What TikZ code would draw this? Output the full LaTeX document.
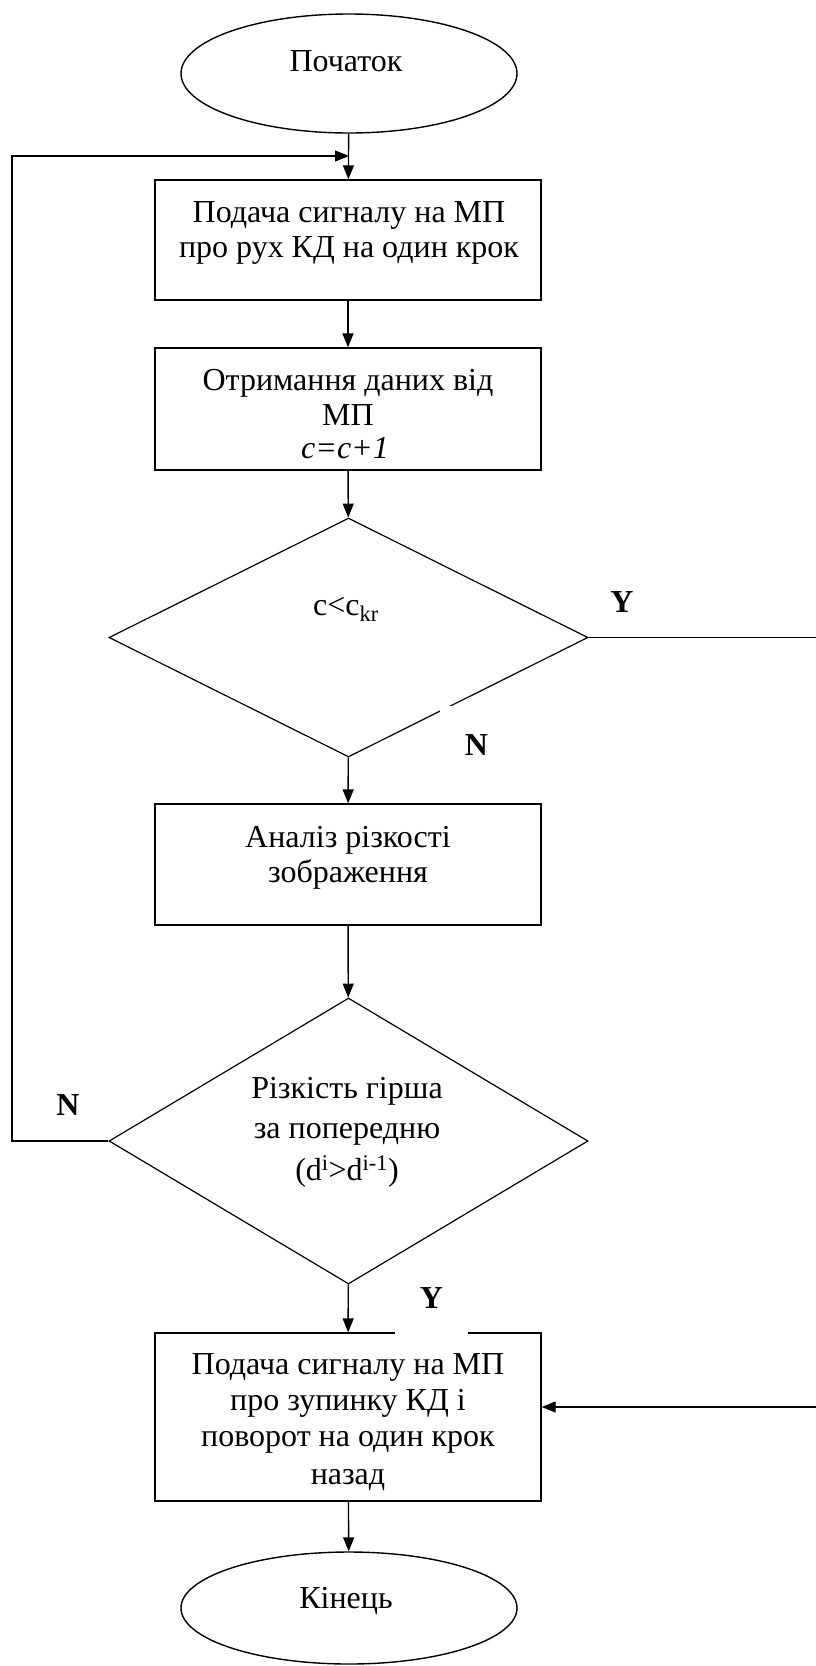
\documentclass[tikz,border=0pt]{standalone}
\usepackage{fontspec}
\setmainfont{Liberation Serif}
\usetikzlibrary{shapes.geometric,arrows.meta}
\begin{document}
\begin{tikzpicture}[x=1pt,y=-1pt,
  line width=1.4pt,
  arr/.style={-{Triangle[length=14pt,width=11pt]}},
  blk/.style={draw, rectangle, inner sep=0pt, minimum width=386pt},
  term/.style={draw, ellipse, inner sep=0pt, minimum width=336pt},
  dec/.style={draw, diamond, inner sep=0pt, line width=1.2pt, minimum width=479pt},
  txt/.style={anchor=base, inner sep=0pt, font=\fontsize{32}{35}\selectfont},
  yn/.style={anchor=base, inner sep=0pt, font=\fontsize{32}{35}\selectfont\bfseries},
  ynbox/.style={fill=white, inner sep=0pt, minimum width=73pt,
    font=\fontsize{32}{35}\selectfont\bfseries},
]
\useasboundingbox[fill=white] (0,0) rectangle (816,1666);

% blocks
\node[term, minimum height=119pt] (st) at (349,73.5) {};
\node[blk, minimum height=120pt] (b1) at (348,240) {};
\node[blk, minimum height=122pt] (b2) at (348,409) {};
\node[dec, minimum height=239pt] (d1) at (348.5,637.5) {};
\node[blk, minimum height=121pt] (b3) at (348,864.5) {};
\node[dec, minimum height=286pt] (d2) at (348.5,1141) {};
\node[blk, minimum height=168pt] (b4) at (348,1417) {};
\node[term, minimum height=112pt] (en) at (349,1608) {};

% texts
\node[txt] (tst) at (346,71) {Початок};
\node[txt] (t1a) at (349,222) {Подача сигналу на МП};
\node[txt] (t1b) at (349,257) {про рух КД на один крок};
\node[txt] (t2a) at (348,390) {Отримання даних від};
\node[txt] (t2b) at (348,425) {МП};
\node[txt] (t2c) at (345,458) {\itshape c=c+1};
\node[txt] (t3) at (346,615) {c<c\textsubscript{kr}};
\node[txt] (t4a) at (348,847) {Аналіз різкості};
\node[txt] (t4b) at (348,882) {зображення};
\node[txt] (t5a) at (347,1098) {Різкість гірша};
\node[txt] (t5b) at (347,1138) {за попередню};
\node[txt] (t5c) at (347,1180) {(d\textsuperscript{i}>d\textsuperscript{i-1})};
\node[txt] (t6a) at (348,1374) {Подача сигналу на МП};
\node[txt] (t6b) at (348,1410) {про зупинку КД і};
\node[txt] (t6c) at (348,1446) {поворот на один крок};
\node[txt] (t6d) at (348,1484) {назад};
\node[txt] (ten) at (346,1608) {Кінець};

% main flow
\draw[arr] (st) -- (b1);
\draw[arr] (b1) -- (b2);
\draw[arr] (b2) -- (d1);
\draw[arr] (d1) -- (b3);
\draw[arr] (b3) -- (d2);
\draw[arr] (d2) -- (b4);
\draw[arr] (b4) -- (en);

% loop back to the step command
\coordinate (la) at (12,1141);
\coordinate (lb) at (12,156);
\draw[arr] (d2.west) -- (la) -- (lb) -- (st.south |- lb);

% exit to the stop command
\coordinate (ra) at (822,637.5);
\coordinate (rb) at (822,1407);
\draw[arr] (d1.east) -- (ra) -- (rb) -- (b4.east |- rb);

% branch labels
\node[yn] (y1) at (622,612) {Y};
\node[ynbox, minimum height=78pt] (n1) at (476.5,745) {N};
\node[yn] (n2) at (68,1115) {N};
\node[ynbox, minimum height=74pt] (y2) at (431.5,1298) {Y};
\end{tikzpicture}
\end{document}
